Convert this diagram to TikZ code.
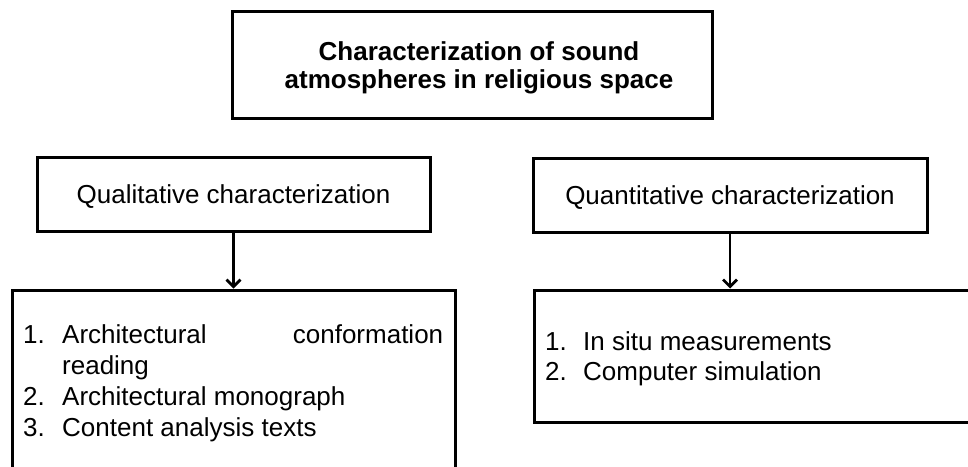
\documentclass[tikz,border=0pt]{standalone}
\usepackage{fontspec}
\setmainfont{Liberation Sans}
\usetikzlibrary{arrows.meta}
\begin{document}
\begin{tikzpicture}[x=1pt,y=-1pt,
  box/.style={draw=black, line width=3pt, inner sep=0pt},
  arr/.style={line width=2.8pt, -{Straight Barb[length=7pt,width=14pt,line width=2.8pt]}},
  txt/.style={inner sep=0pt, font=\fontsize{26}{31}\selectfont},
  titletxt/.style={inner sep=0pt, align=center, font=\bfseries\fontsize{26}{28}\selectfont}]
\useasboundingbox (0,0) rectangle (968,466);
\clip (0,0) rectangle (968,466);
% top box
\node[box, minimum width=480pt, minimum height=107pt] (top) at (472,64.5) {};
\node[titletxt, anchor=base] (title1) at (479,60) {Characterization of sound};
\node[titletxt, anchor=base] (title2) at (479,88) {atmospheres in religious space};
% second level
\node[box, minimum width=393pt, minimum height=74pt] (qual) at (233.5,194) {};
\node[txt, anchor=base] (qualtxt) at (qual.center |- 0,203) {Qualitative characterization};
\node[box, minimum width=394pt, minimum height=74pt] (quant) at (730,195) {};
\node[txt, anchor=base] (quanttxt) at (quant.center |- 0,204) {Quantitative characterization};
% third level
\node[box, minimum width=443pt, minimum height=200pt] (listL) at (233.5,390) {};
\node[box, minimum width=460pt, minimum height=132pt] (listR) at (764,356) {};
\node[txt, anchor=base west] (l1) at (23,343) {\makebox[39pt][l]{1.}\makebox[381pt][s]{Architectural\hfill conformation}};
\node[txt, anchor=base west] (l1b) at (23,374) {\hspace*{39pt}reading};
\node[txt, anchor=base west] (l2) at (23,405) {\makebox[39pt][l]{2.}Architectural monograph};
\node[txt, anchor=base west] (l3) at (23,436) {\makebox[39pt][l]{3.}Content analysis texts};
\node[txt, anchor=base west] (r1) at (545,350) {\makebox[38pt][l]{1.}In situ measurements};
\node[txt, anchor=base west] (r2) at (545,380) {\makebox[38pt][l]{2.}Computer simulation};
% arrows
\draw[arr] (qual.south) -- (qual.south |- listL.north);
\draw[arr] (quant.south) -- (quant.south |- listR.north);
\end{tikzpicture}
\end{document}
